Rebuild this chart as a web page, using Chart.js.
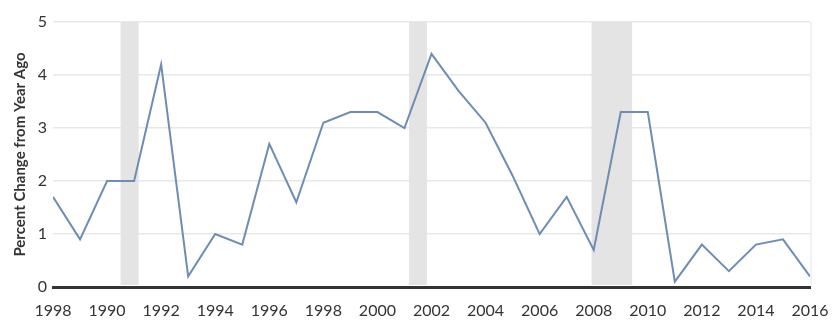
<!DOCTYPE html>
<html>
<head>
<meta charset="utf-8">
<script src="https://cdn.jsdelivr.net/npm/chart.js@4"></script>
<style>
  html, body { margin: 0; padding: 0; background: #fff; }
  #wrap { width: 832px; height: 320px; }
</style>
</head>
<body>
<div id="wrap"><canvas id="mycanvas" width="832" height="320"></canvas></div>
<script>
// yearly values, 1988..2016
var years = [1988, 1989, 1990, 1991, 1992, 1993, 1994, 1995, 1996, 1997, 1998, 1999, 2000, 2001, 2002,
             2003, 2004, 2005, 2006, 2007, 2008, 2009, 2010, 2011, 2012, 2013, 2014, 2015, 2016];
var pctChange = [1.7, 0.9, 2.0, 2.0, 4.2, 0.2, 1.0, 0.8, 2.7, 1.6, 3.1, 3.3, 3.3, 3.0, 4.4,
                 3.7, 3.1, 2.1, 1.0, 1.7, 0.7, 3.3, 3.3, 0.1, 0.8, 0.3, 0.8, 0.9, 0.2];
// labels as printed under the axis (every second year)
var tickLabels = ['1998', '1990', '1992', '1994', '1996', '1998', '2000', '2002',
                  '2004', '2006', '2008', '2010', '2012', '2014', '2016'];
// shaded recessions, start / end in fractional years
var recessionStart = [1990.5, 2001.17, 2007.92];
var recessionEnd = [1991.17, 2001.83, 2009.42];

var points = [];
for (var i in years) {
  points.push({ x: years[i], y: pctChange[i] });
}

var bandsPlugin = {
  id: 'bands',
  beforeDatasetsDraw: function(chart) {
    var ctx = chart.ctx, xs = chart.scales.x, ys = chart.scales.y;
    var top = ys.getPixelForValue(5), bottom = ys.getPixelForValue(0) - 2;
    ctx.save();
    ctx.fillStyle = '#e4e4e4';
    for (var i = 0; i < recessionStart.length; i++) {
      var a = xs.getPixelForValue(recessionStart[i]);
      var b = xs.getPixelForValue(recessionEnd[i]);
      ctx.fillRect(a, top, b - a, bottom - top);
    }
    // faint right edge of the plot
    ctx.strokeStyle = '#ececec';
    ctx.lineWidth = 1.5;
    ctx.beginPath();
    ctx.moveTo(chart.chartArea.right + 1, top);
    ctx.lineTo(chart.chartArea.right + 1, bottom);
    ctx.stroke();
    ctx.restore();
  }
};

var ctx = document.getElementById('mycanvas').getContext('2d');
var LineGraph = new Chart(ctx, {
  type: 'line',
  data: {
    datasets: [{
      label: 'Percent Change from Year Ago',
      data: points,
      borderColor: '#6e8db4',
      borderWidth: 2,
      pointRadius: 0,
      tension: 0,
      fill: false
    }]
  },
  options: {
    responsive: false,
    animation: false,
    layout: { padding: { top: 22, right: 22, left: 0, bottom: 0 } },
    plugins: { legend: { display: false }, tooltip: { enabled: false } },
    scales: {
      x: {
        type: 'linear',
        min: 1988, max: 2016,
        afterBuildTicks: function(axis) {
          var t = [];
          for (var y = 1988; y <= 2016; y += 2) t.push({ value: y });
          axis.ticks = t;
        },
        ticks: {
          autoSkip: false,
          maxRotation: 0,
          padding: 14,
          color: '#333',
          font: { family: 'Lato', size: 16 },
          callback: function(value, index) { return tickLabels[index]; }
        },
        grid: { display: false, drawTicks: false },
        border: { display: true, color: '#333', width: 3 },
        afterFit: function(axis) {
          axis.height = 33;
          axis.paddingLeft = 0;
          axis.paddingRight = 0;
        }
      },
      y: {
        min: 0, max: 5,
        ticks: {
          stepSize: 1,
          padding: 6,
          color: '#333',
          font: { family: 'Lato', size: 16 }
        },
        grid: { color: '#e8e8e8', lineWidth: 1.5, drawTicks: false },
        border: { display: false },
        title: {
          display: true,
          text: 'Percent Change from Year Ago',
          color: '#333',
          padding: { top: 11, bottom: 0 },
          font: { family: 'Lato', size: 15, weight: 'bold' }
        },
        afterFit: function(axis) { axis.width = 53; }
      }
    }
  },
  plugins: [bandsPlugin]
});
</script>
</body>
</html>
